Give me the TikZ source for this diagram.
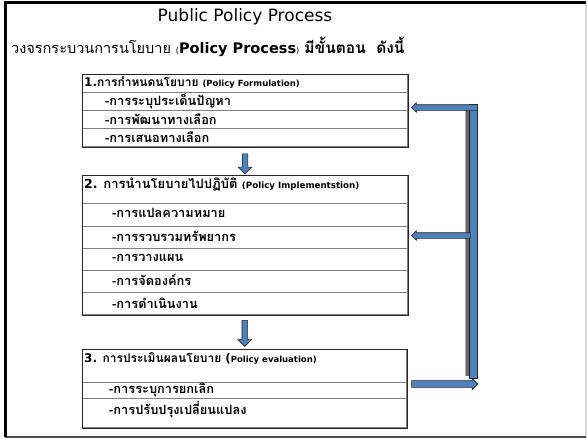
\documentclass[tikz,border=0pt]{standalone}
\usepackage{fontspec}
\setmainfont{DejaVu Sans}
\newfontfamily\thaifont[Script=Thai]{Loma}
\usetikzlibrary{shapes.arrows,calc}
\definecolor{arrowblue}{HTML}{4F81BD}
\definecolor{rowline}{HTML}{808080}
\newcommand{\fs}[1]{\fontsize{#1}{#1}\selectfont}
\newcommand{\lat}[1]{{\rmfamily #1}}
\tikzset{
  cell/.style={draw=rowline, line width=1pt, inner sep=0pt, anchor=north west,
               minimum width=325pt},
  boxframe/.style={draw=black!85, line width=1pt},
  label/.style={anchor=west, inner sep=0pt, font=\thaifont\bfseries\fs{12}},
  item/.style={anchor=west, inner sep=0pt, font=\thaifont\bfseries\fs{12.8}},
  downarrow/.style={single arrow, draw=black!85, fill=arrowblue, line width=0.6pt,
                    inner sep=2.5pt, minimum width=13pt, single arrow head extend=4pt,
                    single arrow head indent=0pt, shape border rotate=270},
  sidearrow/.style={single arrow, draw=black!85, fill=arrowblue, line width=0.6pt,
                    inner sep=2.5pt, minimum width=9pt, single arrow head extend=2pt,
                    anchor=tip},
}
\begin{document}
\begin{tikzpicture}[x=1pt,y=-1pt]
\useasboundingbox (0,0) rectangle (587,439);
% page frame
\draw[rowline!30, line width=1.5pt] (586,3) -- (586,437);
\draw[black!70, line width=1.5pt] (5,437) -- (586,437);
\draw[black, line width=3pt] (3.5,2.5) -- (586,2.5);
\draw[black, line width=3pt] (5,2) -- (5,437);

% heading
\node[inner sep=0pt, font=\fs{17}] (title) at (245,17) {Public Policy Process};
\node[anchor=west, inner sep=0pt, font=\thaifont\fs{14.5}] (subtitle) at (11,47)
  {วงจรกระบวนการนโยบาย \lat{\fs{8}(}\lat{\bfseries\fs{14.5}Policy Process}\lat{\fs{8})}{\bfseries\fs{15.5} มีขั้นตอน~~ดังนี้}};

% stage 1
\node[cell, minimum height=18pt] (f0) at (82,74) {};
\node[cell, minimum height=18pt] (f1) at (82,92) {};
\node[cell, minimum height=18pt] (f2) at (82,110) {};
\node[cell, minimum height=18pt] (f3) at (82,128) {};
\draw[boxframe] (f0.north west) rectangle (f3.south east);
\node[label] (t1) at (84,83) {\lat{1.}การกำหนดนโยบาย \lat{\fs{8.5}(Policy Formulation)}};
\node[item] (i11) at (105,101) {-การระบุประเด็นปัญหา};
\node[item] (i12) at (105,119) {-การพัฒนาทางเลือก};
\node[item] (i13) at (105,137) {-การเสนอทางเลือก};

% stage 2
\node[cell, minimum height=28pt] (g0) at (82,175) {};
\node[cell, minimum height=23pt] (g1) at (82,203) {};
\node[cell, minimum height=22pt] (g2) at (82,226) {};
\node[cell, minimum height=22pt] (g3) at (82,248) {};
\node[cell, minimum height=22pt] (g4) at (82,270) {};
\node[cell, minimum height=22pt] (g5) at (82,292) {};
\draw[boxframe] (g0.north west) rectangle (g5.south east);
\node[label, font=\thaifont\bfseries\fs{13}] (t2) at (84,185) {\lat{\fs{12.5}2. }การนำนโยบายไปปฏิบัติ \lat{\fs{8.7}(Policy Implementstion)}};
\node[item] (i21) at (112,213) {-การแปลความหมาย};
\node[item] (i22) at (112,236) {-การรวบรวมทรัพยากร};
\node[item] (i23) at (112,258) {-การวางแผน};
\node[item] (i24) at (112,280) {-การจัดองค์กร};
\node[item] (i25) at (112,303) {-การดำเนินงาน};

% stage 3
\node[cell, minimum height=33pt, minimum width=324pt] (h0) at (82,349) {};
\node[cell, minimum height=16pt, minimum width=324pt] (h1) at (82,382) {};
\node[cell, minimum height=29pt, minimum width=324pt] (h2) at (82,398) {};
\draw[boxframe] (h0.north west) rectangle (h2.south east);
\node[label] (t3) at (84,358) {\lat{3. }การประเมินผลนโยบาย \lat{(\fs{8.5}Policy evaluation)}};
\node[item] (i31) at (109,390) {-การระบุการยกเลิก};
\node[item] (i32) at (109,410) {-การปรับปรุงเปลี่ยนแปลง};

% flow between stages
\node[downarrow, minimum height=20pt] (d1) at ($(f3.south)!0.5!(g0.north)+(0,1.5)$) {};
\node[downarrow, minimum height=26pt] (d2) at ($(g5.south)!0.5!(h0.north)$) {};

% feedback loop
\coordinate (bustop) at (473,104);
\coordinate (busbot) at (473,378);
\fill[black!60] ($(bustop)+(-7,3)$) rectangle ($(busbot)+(-4,-2)$);
\fill[black!30] ($(bustop)+(-8,3)$) rectangle ($(busbot)+(-7,-2)$);
\draw[draw=black!85, fill=arrowblue, line width=0.6pt] ($(bustop)+(-4,0)$) rectangle ($(busbot)+(4,0)$);
\node[sidearrow, minimum height=66pt, shape border rotate=180] (a1) at ($(f1.east)+(3,6)$) {};
\node[sidearrow, minimum height=59pt, shape border rotate=180] (a2) at ($(g2.east)+(3,-2)$) {};
\node[sidearrow, minimum height=66pt, inner sep=3pt, minimum width=11pt] (a3) at ($(h0.east |- h1.north)+(71,2)$) {};
\end{tikzpicture}
\end{document}
